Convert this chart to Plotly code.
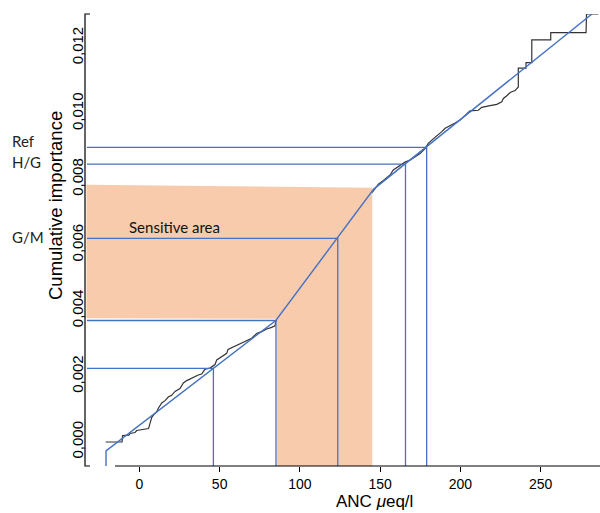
import plotly.graph_objects as go

# ---------------- data ----------------
# empirical cumulative importance (black step curve)
ecdf_anc = [-21.0, -10.8, -10.5, -6.5, -5.9, -2.7, -1.7, 4.1, 5.7, 6.6, 7.7, 9.3, 10.8,
            11.8, 12.8, 13.9, 16.0, 18.0, 20.1, 22.2, 25.3, 27.4, 29.5, 33.6, 36.7, 38.8,
            40.9, 44.0, 47.1, 48.2, 50.9, 54.4, 55.2, 58.5, 61.4, 64.6, 66.9, 70.0, 71.4,
            73.3, 76.2, 79.3, 82.4, 84.5, 84.9,
            145.8, 148.9, 152.0, 156.2, 158.2, 161.3, 165.5, 168.6, 171.8, 174.9, 178.0,
            180.0, 182.2, 185.3, 188.4, 190.5, 193.6, 196.7, 199.8, 202.9, 205.0, 206.0,
            211.2, 213.3, 218.5, 222.7, 225.8, 226.8, 229.1, 231.0, 234.1, 236.1, 236.1,
            240.9, 240.9, 244.5, 244.5, 256.3, 256.3, 278.3, 278.6, 286.0]
ecdf_imp = [0.0, 0.0, 0.00020, 0.00021, 0.00026, 0.00029, 0.00035, 0.00039, 0.00041,
            0.00057, 0.00075, 0.00085, 0.00092, 0.00103, 0.00110, 0.00119, 0.00126,
            0.00137, 0.00142, 0.00154, 0.00163, 0.00180, 0.00187, 0.00197, 0.00204,
            0.00207, 0.00222, 0.00225, 0.00236, 0.00250, 0.00259, 0.00270, 0.00282,
            0.00290, 0.00295, 0.00305, 0.00310, 0.00316, 0.00323, 0.00331, 0.00336,
            0.00344, 0.00349, 0.00354, 0.00366,
            0.00767, 0.00785, 0.00796, 0.00813, 0.00828, 0.00839, 0.00852, 0.00858,
            0.00868, 0.00878, 0.00893, 0.00909, 0.00919, 0.00931, 0.00945, 0.00955,
            0.00962, 0.00971, 0.00980, 0.00994, 0.01001, 0.01008, 0.01010, 0.01019,
            0.01024, 0.01028, 0.01036, 0.01046, 0.01055, 0.01064, 0.01070, 0.01081,
            0.01138, 0.01138, 0.01155, 0.01155, 0.01224, 0.01224, 0.01246, 0.01246,
            0.01303, 0.01303]

# broken-line fit (blue)
fit_anc = [-20.8, 85.0, 146.0, 282.0]
fit_imp = [-0.00027, 0.0037, 0.0077, 0.01303]

# marked thresholds (blue drop lines)
mark_anc = [46.1, 85.1, 123.6, 165.8, 179.0]
mark_imp = [0.00224, 0.0037, 0.0062, 0.00846, 0.00897]

# sensitive area (orange polygon)
sens_anc = [-33.0, 144.8, 145.1, 145.1, 85.6, 85.6, -33.0]
sens_imp = [0.00783, 0.00774, 0.00774, -0.00073, -0.00073, 0.00375, 0.00377]

x_ticks = [0, 50, 100, 150, 200, 250]
y_ticks = [0.0, 0.002, 0.004, 0.006, 0.008, 0.010, 0.012]
y_ticktext = ["0,000", "0,002", "0,004", "0,006", "0,008", "0,010", "0,012"]

side_labels = ["Ref", "H/G", "G/M"]
side_label_imp = [0.00916, 0.00851, 0.00623]

# ---------------- layout geometry ----------------
W, H = 600, 513
ML, MR, MT, MB = 85, 0, 14, 47
PW, PH = W - ML - MR, H - MT - MB
X_RANGE = [-33.9, 287.0]
Y_RANGE = [-0.00073, 0.01303]
LEFT_X = -32.7
BLUE = "#4472C4"


def px2paper_x(px):
    return (px - ML) / PW


def px2paper_y(py):
    return (H - MB - py) / PH


fig = go.Figure()

# black empirical curve
fig.add_trace(go.Scatter(x=ecdf_anc, y=ecdf_imp, mode="lines",
                         line=dict(color="#333333", width=1.2), hoverinfo="skip"))

# orange sensitive area
fig.add_trace(go.Scatter(x=sens_anc, y=sens_imp, mode="lines", fill="toself",
                         fillcolor="#F8CBAD", line=dict(width=0), hoverinfo="skip"))

# blue fit line (with start drop)
fig.add_trace(go.Scatter(x=[fit_anc[0]] + fit_anc, y=[Y_RANGE[0]] + fit_imp, mode="lines",
                         line=dict(color=BLUE, width=1.4), hoverinfo="skip"))

# blue drop lines for marked thresholds
dx, dy = [], []
for a, v in zip(mark_anc, mark_imp):
    dx += [LEFT_X, a, a, None]
    dy += [v, v, Y_RANGE[0], None]
fig.add_trace(go.Scatter(x=dx, y=dy, mode="lines",
                         line=dict(color=BLUE, width=1.3), hoverinfo="skip"))

# axis lines
tick = 5 / PW
fig.add_shape(type="path", xref="paper", yref="paper",
              path=f"M {tick},1 L 0,1 L 0,0 L {tick},0",
              line=dict(color="black", width=1.2))
fig.add_shape(type="line", xref="paper", yref="paper",
              x0=px2paper_x(115), x1=1, y0=0, y1=0,
              line=dict(color="black", width=1.2))

annots = []
for lab, v in zip(side_labels, side_label_imp):
    annots.append(dict(text=lab, xref="paper", yref="y", x=px2paper_x(10), y=v,
                       xanchor="left", yanchor="middle", showarrow=False,
                       font=dict(family="Lato", size=15, color="#222")))
annots.append(dict(text="Sensitive area", xref="x", yref="y", x=-7.9, y=0.00654,
                   xanchor="left", yanchor="middle", showarrow=False,
                   font=dict(family="Lato", size=15, color="#111")))
annots.append(dict(text="ANC <i>\u03bc</i>eq/l", xref="paper", yref="paper",
                   x=px2paper_x(374), y=px2paper_y(501), xanchor="center", yanchor="middle",
                   showarrow=False, font=dict(family="Liberation Sans", size=17, color="black")))
annots.append(dict(text="Cumulative importance", xref="paper", yref="paper",
                   x=px2paper_x(55), y=px2paper_y(206), xanchor="center", yanchor="middle",
                   textangle=-90, showarrow=False,
                   font=dict(family="Liberation Sans", size=18.5, color="black")))

fig.update_layout(
    width=W, height=H,
    margin=dict(l=ML, r=MR, t=MT, b=MB),
    paper_bgcolor="white", plot_bgcolor="white",
    showlegend=False,
    annotations=annots,
    xaxis=dict(range=X_RANGE, tickvals=x_ticks, ticks="outside", ticklen=5,
               tickcolor="black", showgrid=False, zeroline=False, showline=False,
               tickfont=dict(family="Liberation Sans", size=14, color="black")),
    yaxis=dict(range=Y_RANGE, tickvals=y_ticks, ticktext=y_ticktext, tickangle=-90,
               ticks="", showgrid=False, zeroline=False, showline=False,
               ticklabelstandoff=-2,
               tickfont=dict(family="Liberation Sans", size=15, color="black")),
)

fig.write_html("out.html")
